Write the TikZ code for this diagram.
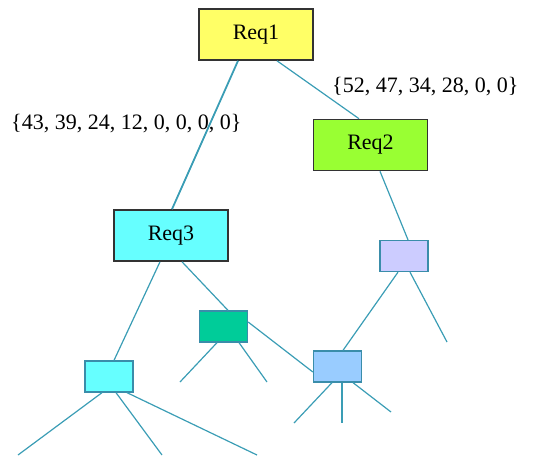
\documentclass[tikz,border=0pt]{standalone}
\usepackage{fontspec}
\setmainfont{Liberation Serif}
\definecolor{lnc}{HTML}{3A9DB5}
\definecolor{bdc}{HTML}{3A8DAA}
\definecolor{cyel}{HTML}{FFFF66}
\definecolor{clime}{HTML}{99FF33}
\definecolor{ccyan}{HTML}{66FFFF}
\definecolor{clav}{HTML}{CCCCFF}
\definecolor{cdg}{HTML}{00CC99}
\definecolor{clb}{HTML}{99CCFF}
\begin{document}
\begin{tikzpicture}[x=1pt,y=-1pt,
  bigbox/.style={draw=black!80,line width=1.6pt,minimum width=114pt,minimum height=51pt,inner sep=0pt,font=\fontsize{22}{26}\selectfont},
  smallbox/.style={draw=bdc,line width=1.3pt,minimum width=48pt,minimum height=31pt,inner sep=0pt},
  conn/.style={draw=lnc,line width=1.2pt},
  lbl/.style={anchor=base west,inner sep=0pt,font=\fontsize{22}{26}\selectfont}]
\useasboundingbox (0,0) rectangle (553,455);
% nodes
\node[bigbox,fill=cyel] (r1) at (256,34.5) {Req1};
\node[bigbox,fill=clime] (r2) at (370.5,145) {Req2};
\node[bigbox,fill=ccyan] (r3) at (171,235.5) {Req3};
\node[smallbox,fill=clav] (lav) at (404,256) {};
\node[smallbox,fill=cdg] (dg) at (223.5,326.5) {};
\node[smallbox,fill=clb] (lb) at (337.5,366.5) {};
\node[smallbox,fill=ccyan] (sc) at (109,376.5) {};
% free ends
\coordinate (e1) at (447,342);
\coordinate (e2) at (180,382);
\coordinate (e3) at (267,382);
\coordinate (e4) at (294,423);
\coordinate (e5) at (342,423);
\coordinate (e6) at (391,412);
\coordinate (e7) at (18,455);
\coordinate (e8) at (162,455);
\coordinate (e9) at (257,455);
% connectors
\draw[conn,line width=1.8pt] ([xshift=-18pt]r1.south) -- ([xshift=1pt]r3.north);
\draw[conn] ([xshift=21pt]r1.south) -- ([xshift=-11.5pt]r2.north);
\draw[conn] ([xshift=9.5pt]r2.south) -- ([xshift=4pt]lav.north);
\draw[conn] ([xshift=-6pt]lav.south) -- ([xshift=5.5pt]lb.north);
\draw[conn] ([xshift=6pt]lav.south) -- (e1);
\draw[conn] ([xshift=-11pt]r3.south) -- ([xshift=5pt]sc.north);
\draw[conn] ([xshift=11pt]r3.south) -- ([xshift=4.5pt]dg.north);
\draw[conn] ([yshift=4.5pt]dg.east) -- ([yshift=-5.5pt]lb.west);
\draw[conn] ([xshift=-6.5pt]dg.south) -- (e2);
\draw[conn] ([xshift=15.5pt]dg.south) -- (e3);
\draw[conn] ([xshift=-5.5pt]lb.south) -- (e4);
\draw[conn] ([xshift=4.5pt]lb.south) -- (e5);
\draw[conn] ([xshift=15.5pt]lb.south) -- (e6);
\draw[conn] ([xshift=-7pt]sc.south) -- (e7);
\draw[conn] ([xshift=7pt]sc.south) -- (e8);
\draw[conn] ([xshift=18pt]sc.south) -- (e9);
% labels
\node[lbl] (l1) at (11,129) {\{43, 39, 24, 12, 0, 0, 0, 0\}};
\node[lbl] (l2) at (332,92) {\{52, 47, 34, 28, 0, 0\}};
\end{tikzpicture}
\end{document}
